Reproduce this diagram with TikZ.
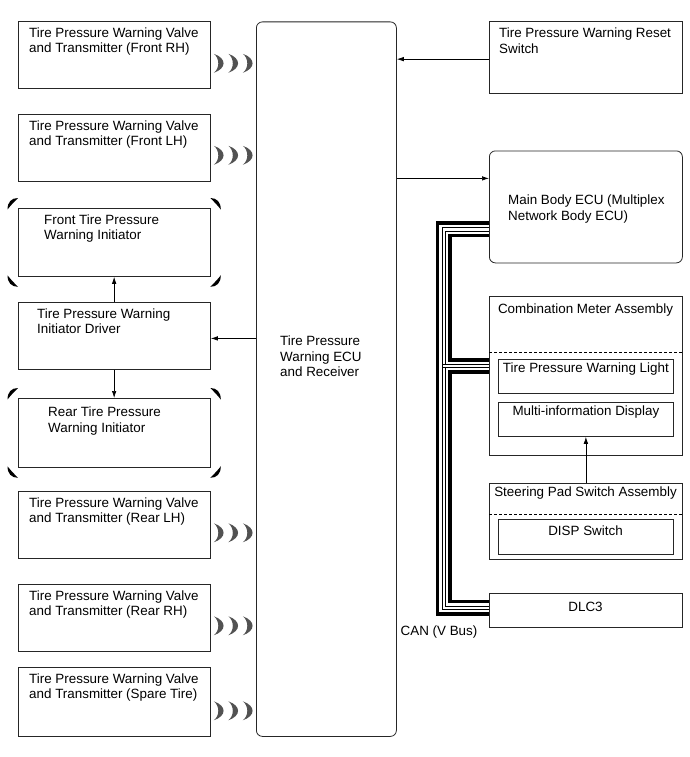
\documentclass[tikz,border=0pt]{standalone}
\usepackage{fontspec}
\setmainfont{Liberation Sans}
\usetikzlibrary{arrows.meta}
\newcommand\dfont{\fontsize{13.4}{15.5}\selectfont}
\begin{document}
\begin{tikzpicture}[x=1pt,y=-1pt,
  box/.style={draw=black!85, line width=0.8pt, inner sep=0pt, anchor=north west},
  txt/.style={anchor=north west, inner sep=0pt, align=left, font=\dfont},
  ctxt/.style={anchor=north, inner sep=0pt, align=center, font=\dfont},
  arr/.style={-{Latex[length=7pt,width=4.5pt]}, line width=0.7pt, draw=black},
  thk/.style={line width=3.4pt, draw=black},
  thn/.style={line width=1pt, draw=black},
  wave/.pic={\fill[black!68] (0,-9.5) .. controls (13,-5) and (13,5) .. (0,9.5) .. controls (6,5) and (6,-5) .. (0,-9.5);},
  cmk/.pic={\fill[black] (-10,1.5) .. controls (-10,-6) and (-6,-10) .. (0.5,-10) .. controls (-3,-6.5) and (-6.5,-3) .. (-10,1.5) -- cycle;}
]
\useasboundingbox (0,0) rectangle (690,757);
\fill[white] (0,0) rectangle (690,757);

% left column boxes
\node[box, minimum width=192.5pt, minimum height=67.5pt] (frh) at (17.5,21) {};
\node[box, minimum width=192.5pt, minimum height=66.5pt] (flh) at (17.5,114) {};
\node[box, minimum width=192.5pt, minimum height=68pt] (fini) at (17.5,208) {};
\node[box, minimum width=192.5pt, minimum height=67pt] (drv) at (17.5,302) {};
\node[box, minimum width=192.5pt, minimum height=69pt] (rini) at (17.5,398) {};
\node[box, minimum width=192.5pt, minimum height=67pt] (rlh) at (17.5,491) {};
\node[box, minimum width=192.5pt, minimum height=67pt] (rrh) at (17.5,584) {};
\node[box, minimum width=192.5pt, minimum height=69pt] (spr) at (17.5,667) {};

\node[txt] (tfrh) at (29,27.5) {Tire Pressure Warning Valve\\and Transmitter (Front RH)};
\node[txt] (tflh) at (29,120.5) {Tire Pressure Warning Valve\\and Transmitter (Front LH)};
\node[txt] (tfini) at (44,214.5) {Front Tire Pressure\\Warning Initiator};
\node[txt] (tdrv) at (37,308.5) {Tire Pressure Warning\\Initiator Driver};
\node[txt] (trini) at (48,407) {Rear Tire Pressure\\Warning Initiator};
\node[txt] (trlh) at (29,497.5) {Tire Pressure Warning Valve\\and Transmitter (Rear LH)};
\node[txt] (trrh) at (29,590.5) {Tire Pressure Warning Valve\\and Transmitter (Rear RH)};
\node[txt] (tspr) at (29,673.5) {Tire Pressure Warning Valve\\and Transmitter (Spare Tire)};

% central ECU
\node[box, rounded corners=6pt, minimum width=140pt, minimum height=714.5pt] (ecu) at (256,21.5) {};
\node[txt] (tecu) at (280,336) {Tire Pressure\\Warning ECU\\and Receiver};

% right column
\node[box, minimum width=193pt, minimum height=71.5pt] (rst) at (489,21.5) {};
\node[txt] (trst) at (499,28) {Tire Pressure Warning Reset\\Switch};
\node[box, rounded corners=6pt, minimum width=193pt, minimum height=112pt] (mbe) at (489,150.5) {};
\node[txt] (tmbe) at (508,195) {Main Body ECU (Multiplex\\Network Body ECU)};

\node[box, minimum width=193pt, minimum height=159pt] (cmb) at (489,296) {};
\node[ctxt] (tcmb) at (585.5,304) {Combination Meter Assembly};
\draw[dashed, dash pattern=on 3pt off 2pt, line width=0.7pt] (cmb.west |- 0,352) -- (cmb.east |- 0,352);
\node[box, minimum width=175pt, minimum height=34pt] (twl) at (498,359) {};
\node[ctxt] (ttwl) at (twl.north) [yshift=-4pt] {Tire Pressure Warning Light};
\node[box, minimum width=175pt, minimum height=34pt] (mid) at (498,402) {};
\node[ctxt] (tmid) at (mid.north) [yshift=-4pt] {Multi-information Display};

\node[box, minimum width=193pt, minimum height=76pt] (spd) at (489,483) {};
\node[ctxt] (tspd) at (585.5,487) {Steering Pad Switch Assembly};
\draw[dashed, dash pattern=on 3pt off 2pt, line width=0.7pt] (spd.west |- 0,514) -- (spd.east |- 0,514);
\node[box, minimum width=175pt, minimum height=35pt] (dsp) at (498,519) {};
\node[ctxt] (tdsp) at (585.5,526) {DISP Switch};

\node[box, minimum width=193pt, minimum height=34pt] (dlc) at (489,593) {};
\node[ctxt] (tdlc) at (585.5,602) {DLC3};
\node[font=\dfont, inner sep=0pt] (can) at (439,632) {CAN (V Bus)};

% arrows
\coordinate (ra) at ([yshift=-1.5pt]rst.west);
\draw[arr] (ra) -- (ecu.east |- ra);
\coordinate (ma) at ([yshift=28.5pt]mbe.west);
\draw[arr] (ecu.east |- ma) -- (ma);
\coordinate (da) at ([yshift=-2.5pt]drv.east);
\draw[arr] (ecu.west |- da) -- (da);
\draw[arr] (drv.north) -- (fini.south);
\draw[arr] (drv.south) -- (rini.north);
\draw[arr] (spd.north) -- (mid.south);

% CAN bus
\coordinate (m0) at ([yshift=-72.5pt]mbe.north west);
\coordinate (m1) at ([yshift=-77pt]mbe.north west);
\coordinate (m2) at ([yshift=-80.5pt]mbe.north west);
\coordinate (m3) at ([yshift=-85pt]mbe.north west);
\coordinate (c3) at ([yshift=-64pt]cmb.north west);
\coordinate (c2) at ([yshift=-68.5pt]cmb.north west);
\coordinate (c1) at ([yshift=-71.5pt]cmb.north west);
\coordinate (c4) at ([yshift=-76pt]cmb.north west);
\coordinate (d3) at ([yshift=-8.5pt]dlc.north west);
\coordinate (d2) at ([yshift=-13pt]dlc.north west);
\coordinate (d1) at ([yshift=-16.5pt]dlc.north west);
\coordinate (d0) at ([yshift=-21pt]dlc.north west);
\coordinate (xo) at (437.5,0);
\coordinate (xa) at (442,0);
\coordinate (xb) at (445.5,0);
\coordinate (xc) at (450,0);
\draw[thk] (m0) -| (xo |- d0) -- (d0);
\draw[thk] (m3) -| (xc |- c3) -- (c3);
\draw[thk] (c4) -| (xc |- d3) -- (d3);
\draw[thn] (m1) -| (xa |- c1) -- (c1);
\draw[thn] (m2) -| (xb |- c2) -- (c2);
\draw[thn] (c1) -| (xb |- d2) -- (d2);
\draw[thn] (c2) -| (xa |- d1) -- (d1);

% transmitter waves
\foreach \b in {frh,flh,rlh,rrh,spr}{
  \foreach \dx in {3,17.5,32}{
    \pic at ([shift={(\dx,-26)}]\b.south east) {wave};
  }
}

% initiator corner marks
\foreach \b in {fini,rini}{
  \pic at (\b.north west) {cmk};
  \pic[xscale=-1] at (\b.north east) {cmk};
  \pic[yscale=-1] at (\b.south west) {cmk};
  \pic[xscale=-1,yscale=-1] at (\b.south east) {cmk};
}
\end{tikzpicture}
\end{document}
